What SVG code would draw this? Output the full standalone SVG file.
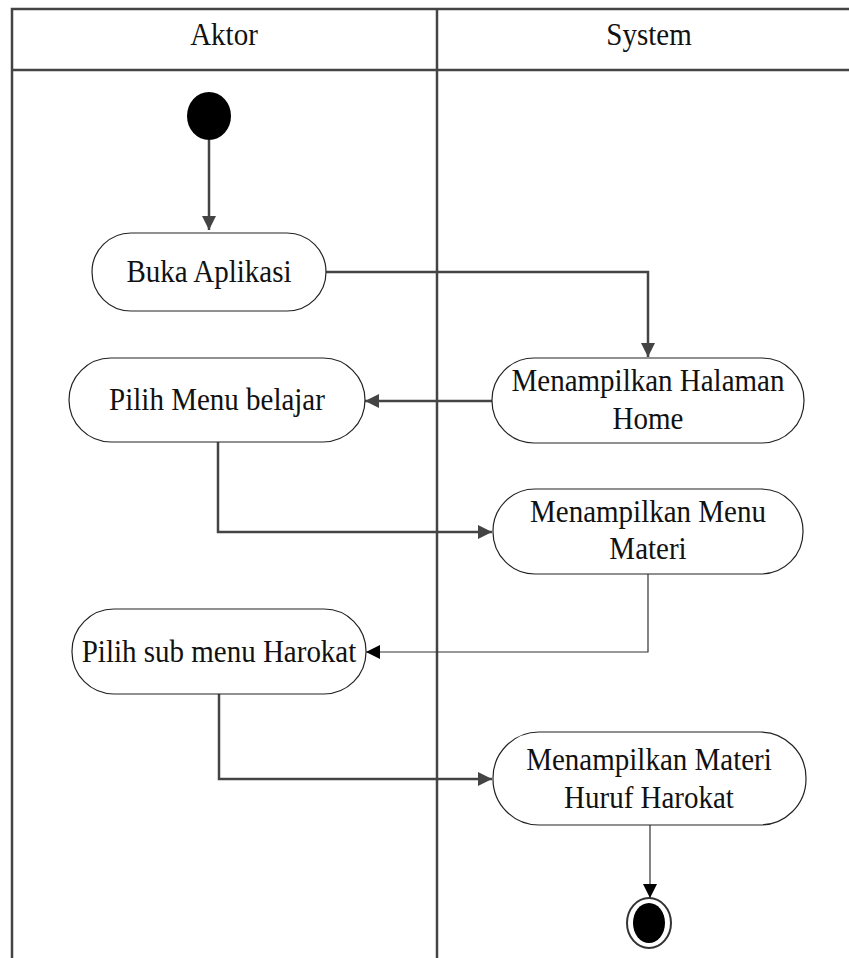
<svg xmlns="http://www.w3.org/2000/svg" width="849" height="958" viewBox="0 0 849 958">
<defs>
<marker id="arr" viewBox="0 0 10 10" refX="10" refY="5" markerWidth="14" markerHeight="14" markerUnits="userSpaceOnUse" orient="auto"><path d="M0,0 L10,5 L0,10 Z" fill="#444"/></marker>
<marker id="arrb" viewBox="0 0 10 10" refX="10" refY="5" markerWidth="14" markerHeight="14" markerUnits="userSpaceOnUse" orient="auto"><path d="M0,0 L10,5 L0,10 Z" fill="#000"/></marker>
</defs>
<style>
.lane{fill:none;stroke:#444;stroke-width:2.5}
.act{fill:#fff;stroke:#222;stroke-width:1.2}
.t{font-family:"Liberation Serif","Times New Roman",serif;font-size:29px;fill:#111;text-anchor:middle}
.c{fill:none;stroke:#444;stroke-width:2.5}
.c1{fill:none;stroke:#333;stroke-width:1.2}
</style>
<rect width="849" height="958" fill="#fff"/>
<g id="swimlanes">
<path class="lane" d="M12,958 V9 H860 M12,70 H860 M437,9 V958"/>
<text class="t" transform="matrix(1,0,0,1.08,224,45)">Aktor</text>
<text class="t" transform="matrix(1,0,0,1.08,649,45)">System</text>
</g>
<g id="connectors">
<path class="c" d="M209,140 V230" marker-end="url(#arr)"/>
<path class="c" d="M326,272 H648 V357" marker-end="url(#arr)"/>
<path class="c" d="M492,401 H365" marker-end="url(#arr)"/>
<path class="c" d="M218,442 V532 H492" marker-end="url(#arr)"/>
<path class="c1" d="M648,574 V652 H366" marker-end="url(#arrb)"/>
<path class="c" d="M219,694 V779 H492" marker-end="url(#arr)"/>
<path class="c1" d="M650,825 V898" marker-end="url(#arrb)"/>
</g>
<g id="start"><ellipse cx="209" cy="116" rx="22" ry="24" fill="#000"/></g>
<g id="buka"><rect class="act" x="92" y="233" width="234" height="78" rx="39"/><text class="t" transform="matrix(1,0,0,1.08,209,282)">Buka Aplikasi</text></g>
<g id="halaman"><rect class="act" x="492" y="358" width="312" height="85" rx="42"/><text class="t" transform="matrix(1,0,0,1.08,648,391)">Menampilkan Halaman</text><text class="t" transform="matrix(1,0,0,1.08,648,429)">Home</text></g>
<g id="pilihmenu"><rect class="act" x="69" y="358" width="296" height="84" rx="42"/><text class="t" transform="matrix(1,0,0,1.08,217,410)">Pilih Menu belajar</text></g>
<g id="menumateri"><rect class="act" x="493" y="489" width="310" height="85" rx="42"/><text class="t" transform="matrix(1,0,0,1.08,648,522)">Menampilkan Menu</text><text class="t" transform="matrix(1,0,0,1.08,648,559)">Materi</text></g>
<g id="harokat"><rect class="act" x="72" y="609" width="294" height="85" rx="42"/><text class="t" transform="matrix(1,0,0,1.08,219,662)">Pilih sub menu Harokat</text></g>
<g id="materihuruf"><rect class="act" x="493" y="732" width="313" height="93" rx="46"/><text class="t" transform="matrix(1,0,0,1.08,649,770)">Menampilkan Materi</text><text class="t" transform="matrix(1,0,0,1.08,649,808)">Huruf Harokat</text></g>
<g id="end"><ellipse cx="649" cy="923" rx="22" ry="25" fill="#fff" stroke="#333" stroke-width="2"/><ellipse cx="649" cy="923" rx="16" ry="20" fill="#000"/></g>
</svg>
